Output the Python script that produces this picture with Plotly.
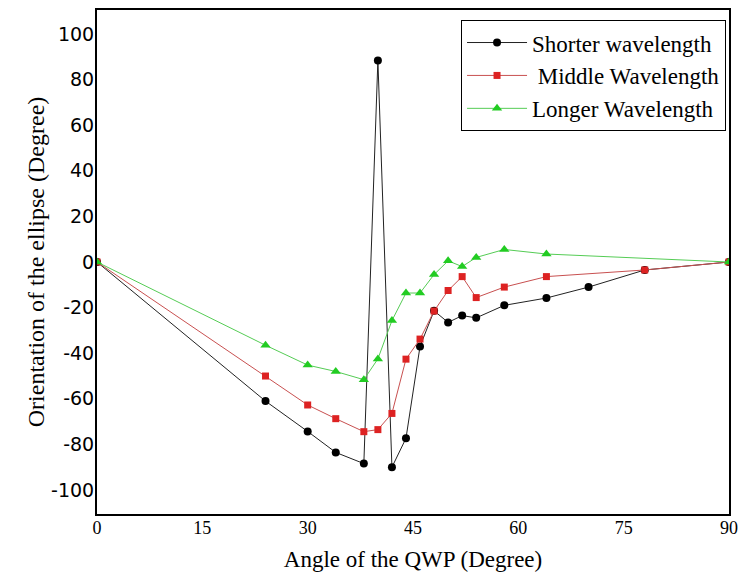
import plotly.graph_objects as go

# Data
short_x = [0, 24, 30, 34, 38, 40, 42, 44, 46, 48, 50, 52, 54, 58, 64, 70, 78, 90]
short_y = [0, -61, -74.3, -83.5, -88.4, 88.4, -90, -77.3, -37, -21.4, -26.5, -23.5, -24.5, -19, -15.8, -11, -3.5, 0]

mid_x = [0, 24, 30, 34, 38, 40, 42, 44, 46, 48, 50, 52, 54, 58, 64, 78, 90]
mid_y = [0, -50, -62.7, -68.7, -74.4, -73.5, -66.4, -42.6, -33.8, -21.5, -12.5, -6.4, -15.6, -11, -6.4, -3.5, 0]

long_x = [0, 24, 30, 34, 38, 40, 42, 44, 46, 48, 50, 52, 54, 58, 64, 90]
long_y = [0, -36.5, -45.2, -48, -51.6, -42.5, -25.7, -13.6, -13.6, -5.5, 0.5, -2, 2, 5.5, 3.5, 0]

x_ticks = [0, 15, 30, 45, 60, 75, 90]
y_ticks = [-100, -80, -60, -40, -20, 0, 20, 40, 60, 80, 100]
y_tick_text = ["-100", "-80", "-60", "-40", "-20", "0", "20", "40", "60", "80", "100"]

fig = go.Figure()
fig.add_trace(go.Scatter(x=short_x, y=short_y, mode="lines+markers", name="Shorter wavelength",
                         line=dict(color="#222222", width=1),
                         marker=dict(symbol="circle", size=8, color="black")))
fig.add_trace(go.Scatter(x=mid_x, y=mid_y, mode="lines+markers", name=" Middle Wavelength",
                         line=dict(color="#c85050", width=1),
                         marker=dict(symbol="square", size=7, color="#dd2222")))
fig.add_trace(go.Scatter(x=long_x, y=long_y, mode="lines+markers", name="Longer Wavelength",
                         line=dict(color="#55cc55", width=1),
                         marker=dict(symbol="triangle-up", size=9, color="#22cc22")))

fig.update_layout(
    width=746, height=576,
    margin=dict(l=97, r=15, t=8, b=62),
    paper_bgcolor="white", plot_bgcolor="white",
    showlegend=True,
    legend=dict(x=0.576, y=0.98, xanchor="left", yanchor="top",
                bordercolor="black", borderwidth=1, bgcolor="white",
                font=dict(family="Liberation Serif", size=23, color="black"),
                itemwidth=60, tracegroupgap=8),
    xaxis=dict(range=[0, 90], tickvals=x_ticks, showgrid=False, zeroline=False,
               showline=True, linecolor="black", linewidth=2, mirror=True,
               ticks="", ticklabelstandoff=-4,
               tickfont=dict(family="Liberation Serif", size=18, color="black"),
               title=dict(text="Angle of the QWP (Degree)", standoff=14,
                          font=dict(family="Liberation Serif", size=23, color="black"))),
    yaxis=dict(range=[-110.5, 110.5], tickvals=y_ticks, ticktext=y_tick_text,
               showgrid=False, zeroline=False,
               showline=True, linecolor="black", linewidth=2, mirror=True,
               ticks="", ticklabelstandoff=-3,
               tickfont=dict(family="DejaVu Sans", size=19, color="black"),
               title=dict(text="Orientation of the ellipse (Degree)", standoff=0,
                          font=dict(family="Liberation Serif", size=24, color="black"))),
)

fig.write_html("out.html")
